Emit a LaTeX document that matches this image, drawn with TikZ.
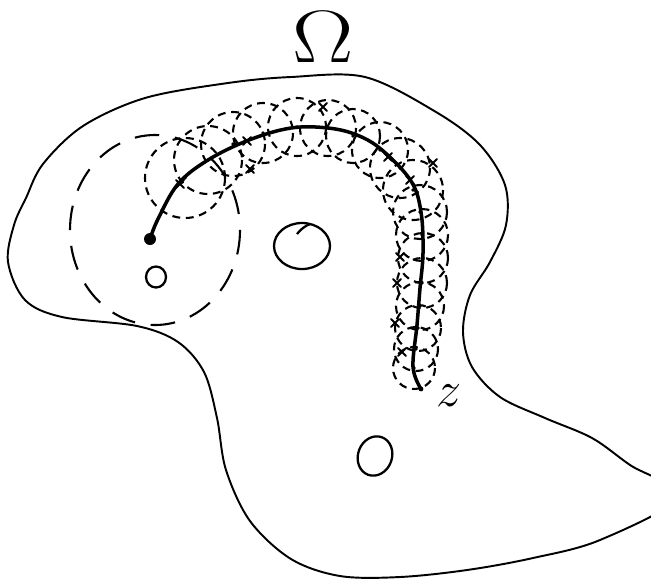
\documentclass[tikz,border=0pt]{standalone}
\usepackage{tikz}
\usetikzlibrary{positioning}
\tikzset{
  boundary/.style={line width=1.1pt, line join=round},
  hole/.style={line width=1.3pt},
  bigdisk/.style={line width=1.2pt, dash pattern=on 14pt off 9pt},
  disk/.style={line width=1.2pt, dash pattern=on 4.5pt off 3.2pt},
  pathline/.style={line width=2pt, line cap=round},
  crossmark/.style={line width=1.1pt, line cap=round},
  labelbig/.style={inner sep=0pt, font=\Huge, xscale=2.1, yscale=1.7, transform shape},
  labelz/.style={inner sep=0pt, font=\Huge, scale=1.15, transform shape},
}

\begin{document}
\begin{tikzpicture}[x=0.02cm,y=-0.02cm]
\useasboundingbox (0,0) rectangle (651,579);
\clip (0,0) rectangle (651,579);

% domain
\draw[boundary] plot[smooth cycle, tension=0.55] coordinates {
  (291,77) (365,77) (436,112) (480,145) (505,185) (506,225) (490,262)
  (470,295) (463,332) (472,367) (500,397) (545,418) (592,438) (630,465)
  (678,497) (600,540) (533,558) (467,570) (400,577) (340,576) (291,559)
  (250,521) (226,470) (217,418) (204,372) (178,342) (137,326) (62,317)
  (25,300) (8,262) (14,225) (26,198) (43,164) (83,126) (145,98) (228,83)};
\node[labelbig] (omega) at (323,37) {$\Omega$};

% holes
\draw[hole] (156,277) ellipse [x radius=10, y radius=10.5];
\draw[hole] (302,246) ellipse [x radius=28, y radius=23];
\draw[hole] (297,234) .. controls (301,229) and (305,226) .. (310,224);
\draw[hole, rotate around={-20:(375,456)}] (375,456) ellipse [x radius=17, y radius=20];

% chain of disks
\draw[bigdisk] (155,230) ellipse [x radius=85, y radius=95];
\foreach \cx/\cy/\r in {185/178/40, 208/160/34, 233/144/32, 263/133/30,
  297/127/29, 328/128/28, 353/136/27, 380/150/28, 400/168/30, 413/190/30,
  420/212/27, 422/235/26, 423/258/25, 422/283/25, 420/306/24, 418/328/23,
  416/349/22, 414/368/21}
{
  \draw[disk] (\cx,\cy) circle (\r);
  \fill (\cx,\cy) circle (1.9);
}

% path from the base point to z
\coordinate (start) at (150,239);
\coordinate (zpt) at (421,389);
\draw[pathline] plot[smooth, tension=0.6] coordinates {(start) (158,219)
  (178,184) (208,160) (249,140) (291,128) (328,128) (357,135) (382,150)
  (411,181) (421,212) (423,253) (420,288) (417,325) (413,367) (zpt)};
\fill (start) circle (6);
\fill (zpt) circle (2.4);

% intersection marks
\foreach \px/\py in {180/184, 247/141, 250/169, 323/107, 433/163, 388/157,
  410/180, 400/257, 397/283, 395/323, 402/352}
  \draw[crossmark] (\px-4,\py-4) -- (\px+4,\py+4) (\px-4,\py+4) -- (\px+4,\py-4);

\node[labelz] (zlabel) at (449,396) {$z$};
\end{tikzpicture}
\end{document}
